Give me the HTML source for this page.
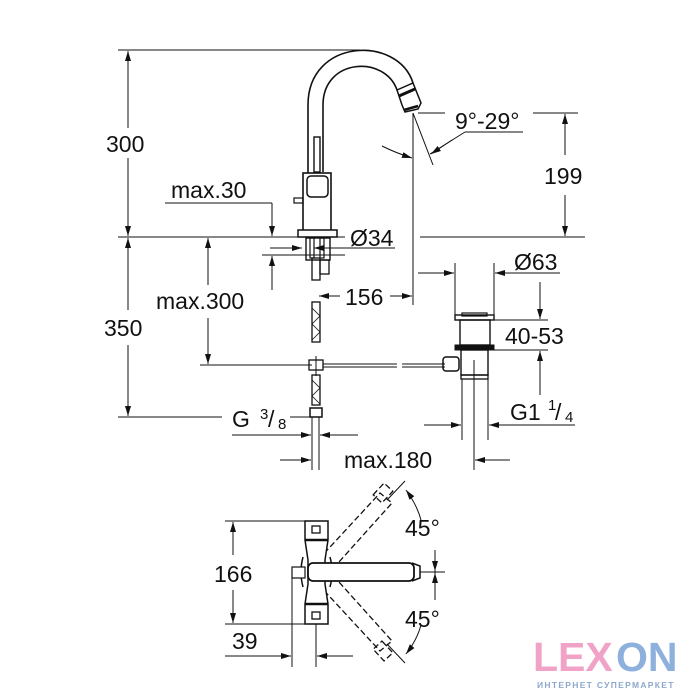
<!DOCTYPE html>
<html><head><meta charset="utf-8"><style>
html,body{margin:0;padding:0;background:#fff}
svg{display:block}
text{font-family:"Liberation Sans",Arial,sans-serif;fill:#111}
</style></head><body>
<svg width="700" height="700" viewBox="0 0 700 700" xmlns="http://www.w3.org/2000/svg">
<defs>
<marker id="a" viewBox="0 0 10 6" refX="10" refY="3" markerWidth="10" markerHeight="6" orient="auto" markerUnits="userSpaceOnUse"><path d="M0,0L10,3L0,6z" fill="#111"/></marker>
</defs>
<g stroke="#111" stroke-width="1" fill="none">
<line x1="118" y1="50" x2="360" y2="50"/>
<line x1="128" y1="128" x2="128" y2="51" marker-end="url(#a)"/>
<line x1="128" y1="158" x2="128" y2="236" marker-end="url(#a)"/>
<line x1="118" y1="237" x2="345" y2="237"/>
<line x1="420" y1="237" x2="585" y2="237"/>
<line x1="128" y1="310" x2="128" y2="238" marker-end="url(#a)"/>
<line x1="128" y1="345" x2="128" y2="416" marker-end="url(#a)"/>
<line x1="118" y1="417" x2="222" y2="417"/>
<line x1="290" y1="417" x2="318" y2="417"/>
<line x1="208" y1="285" x2="208" y2="238" marker-end="url(#a)"/>
<line x1="208" y1="318" x2="208" y2="364" marker-end="url(#a)"/>
<line x1="200" y1="365" x2="312" y2="365"/>
<line x1="165" y1="203" x2="272" y2="203"/>
<line x1="272" y1="203" x2="272" y2="236" marker-end="url(#a)"/>
<line x1="272" y1="290" x2="272" y2="256" marker-end="url(#a)"/>
<line x1="262" y1="255" x2="345" y2="255"/>
<line x1="270" y1="248" x2="302" y2="248" marker-end="url(#a)"/>
<line x1="346" y1="248" x2="314" y2="248" marker-end="url(#a)"/>
<line x1="346" y1="248" x2="395" y2="248"/>
<path d="M308,232 L308,105 C308,38 398,35 413,83" stroke-width="1.6"/>
<path d="M323,172 L323,105 C323,58 385,55 397,90" stroke-width="1.6"/>
<path d="M397,90 L413,83 L421,103 L418,109 L405,112 L402,105 Z" stroke-width="1.5" fill="#fff"/>
<line x1="399" y1="96" x2="415" y2="89" stroke-width="3"/>
<line x1="404" y1="110" x2="418" y2="106" stroke-width="2.5"/>
<rect x="314" y="137" width="6" height="35" stroke-width="1.4"/>
<rect x="303" y="173" width="28" height="59" fill="#fff" stroke-width="1.6"/>
<rect x="307" y="176" width="21" height="21" rx="4" stroke-width="1.5"/>
<rect x="294" y="198" width="9" height="5" stroke-width="1.2"/>
<rect x="298" y="230" width="39" height="7" fill="#fff" stroke-width="1.5"/>
<rect x="306" y="238" width="24" height="22" stroke-width="1.4"/>
<rect x="310" y="238" width="4" height="20" stroke-width="1.2"/>
<rect x="320" y="238" width="4" height="20" stroke-width="1.2"/>
<rect x="320" y="260" width="9" height="14" stroke-width="1.3"/>
<rect x="312" y="258" width="8" height="22" stroke-width="1.3"/>
<rect x="312" y="302" width="8" height="40" stroke-width="1.3"/>
<path d="M312,308 L320,316 L312,324 L320,332 L312,340" stroke-width="0.8"/>
<line x1="316" y1="356" x2="316" y2="376"/>
<rect x="309" y="360" width="14" height="10" stroke-width="1.3"/>
<rect x="312" y="375" width="8" height="30" stroke-width="1.3"/>
<path d="M312,380 L320,388 L312,396 L320,404" stroke-width="0.8"/>
<rect x="310" y="408" width="12" height="9" stroke-width="1.5"/>
<line x1="312" y1="417" x2="312" y2="470"/>
<line x1="319" y1="417" x2="319" y2="470"/>
<line x1="323" y1="364" x2="397" y2="364"/>
<line x1="323" y1="367" x2="397" y2="367"/>
<line x1="402" y1="364" x2="445" y2="364"/>
<line x1="402" y1="367" x2="445" y2="367"/>
<line x1="413" y1="113" x2="413" y2="305"/>
<line x1="340" y1="296" x2="319" y2="296" marker-end="url(#a)"/>
<line x1="390" y1="296" x2="412" y2="296" marker-end="url(#a)"/>
<line x1="413" y1="113" x2="433" y2="165"/>
<line x1="418" y1="113" x2="445" y2="113"/>
<path d="M382,146 Q396,153 412,158" marker-end="url(#a)"/>
<path d="M465,132 L523,132 M465,132 L430,154"/>
<line x1="452" y1="140" x2="431" y2="154" marker-end="url(#a)"/>
<line x1="533" y1="113" x2="578" y2="113"/>
<line x1="565" y1="155" x2="565" y2="114" marker-end="url(#a)"/>
<line x1="565" y1="195" x2="565" y2="236" marker-end="url(#a)"/>
<line x1="455" y1="263" x2="455" y2="316"/>
<line x1="494" y1="263" x2="494" y2="316"/>
<line x1="418" y1="273" x2="454" y2="273" marker-end="url(#a)"/>
<line x1="560" y1="273" x2="495" y2="273" marker-end="url(#a)"/>
<rect x="455" y="315" width="39" height="5" stroke-width="1.4" fill="#fff"/>
<rect x="462" y="313" width="25" height="3" stroke-width="1.2"/>
<rect x="460" y="320" width="30" height="25" stroke-width="1.4"/>
<rect x="455" y="345" width="39" height="5" fill="#111" stroke-width="1"/>
<rect x="461" y="350" width="27" height="25" stroke-width="1.4"/>
<rect x="461" y="375" width="27" height="4" stroke-width="1.3"/>
<rect x="443" y="357" width="16" height="14" rx="3" stroke-width="1.5"/>
<line x1="462" y1="379" x2="462" y2="440"/>
<line x1="488" y1="379" x2="488" y2="440"/>
<line x1="474" y1="360" x2="474" y2="470"/>
<line x1="494" y1="320" x2="548" y2="320"/>
<line x1="494" y1="350" x2="548" y2="350"/>
<line x1="540" y1="282" x2="540" y2="319" marker-end="url(#a)"/>
<line x1="540" y1="395" x2="540" y2="351" marker-end="url(#a)"/>
<line x1="424" y1="425" x2="461" y2="425" marker-end="url(#a)"/>
<line x1="575" y1="425" x2="489" y2="425" marker-end="url(#a)"/>
<line x1="232" y1="435" x2="311" y2="435" marker-end="url(#a)"/>
<line x1="358" y1="435" x2="320" y2="435" marker-end="url(#a)"/>
<line x1="280" y1="460" x2="311" y2="460" marker-end="url(#a)"/>
<line x1="510" y1="460" x2="475" y2="460" marker-end="url(#a)"/>

<line x1="225" y1="521" x2="310" y2="521"/>
<line x1="225" y1="624" x2="310" y2="624"/>
<line x1="233" y1="555" x2="233" y2="522" marker-end="url(#a)"/>
<line x1="233" y1="590" x2="233" y2="623" marker-end="url(#a)"/>
<g stroke-dasharray="6,3" stroke-width="1.3">
<path d="M318,560 L380,493 L392,503 L330,572"/>
<path d="M318,584 L380,651 L392,641 L330,572"/>
<rect x="375" y="487" width="16" height="12" transform="rotate(-47 383 493)"/>
<rect x="375" y="645" width="16" height="12" transform="rotate(47 383 651)"/>
</g>
<path d="M305,521 L328,521 L328,540 L325,560 L325,584 L328,604 L328,624 L305,624 L305,604 L308,584 L308,560 L305,540 Z" fill="#fff" stroke-width="1.5"/>
<rect x="312" y="526" width="8" height="7" stroke-width="1.3"/>
<rect x="312" y="612" width="8" height="7" stroke-width="1.3"/>
<line x1="305" y1="540" x2="328" y2="540" stroke-width="2.5"/>
<line x1="305" y1="604" x2="328" y2="604" stroke-width="2.5"/>
<path d="M303,557 Q299,572 303,587" stroke-width="1.5"/>
<path d="M330,557 Q334,572 330,587" stroke-width="1.5"/>
<rect x="292" y="567" width="13" height="11" stroke-width="1.2" fill="#fff"/>
<rect x="308" y="563" width="106" height="18" rx="5" fill="#fff" stroke-width="1.8"/>
<path d="M412,563 L420,566 L420,578 L412,581" stroke-width="1.5"/>
<line x1="420" y1="572" x2="445" y2="572"/>
<line x1="435" y1="553" x2="435" y2="600"/>
<line x1="435" y1="550" x2="435" y2="571" marker-end="url(#a)"/>
<line x1="435" y1="595" x2="435" y2="573" marker-end="url(#a)"/>
<line x1="405" y1="481" x2="387" y2="500"/>
<line x1="405" y1="663" x2="387" y2="644"/>
<path d="M421,520 Q417,505 406,490" marker-end="url(#a)"/>
<path d="M421,625 Q417,640 406,654" marker-end="url(#a)"/>
<line x1="292" y1="578" x2="292" y2="667"/>
<line x1="316" y1="624" x2="316" y2="667"/>
<line x1="225" y1="656" x2="291" y2="656" marker-end="url(#a)"/>
<line x1="353" y1="656" x2="317" y2="656" marker-end="url(#a)"/>
</g>
<g font-size="23">
<text x="106" y="152">300</text>
<text x="104" y="336">350</text>
<text x="171" y="198">max.30</text>
<text x="156" y="309">max.300</text>
<text x="350" y="246">Ø34</text>
<text x="345" y="305">156</text>
<text x="455" y="129">9°-29°</text>
<text x="544" y="184">199</text>
<text x="514" y="270">Ø63</text>
<text x="505" y="344">40-53</text>
<text x="510" y="420">G1</text>
<text x="548" y="410" font-size="15">1</text>
<text x="555" y="420">/</text>
<text x="565" y="422" font-size="15">4</text>
<text x="232" y="427">G</text>
<text x="260" y="419" font-size="15">3</text>
<text x="268" y="427">/</text>
<text x="278" y="429" font-size="15">8</text>
<text x="344" y="468">max.180</text>
<text x="214" y="582">166</text>
<text x="232" y="649">39</text>
<text x="405" y="536">45°</text>
<text x="405" y="627">45°</text>
</g>
<g font-weight="bold" font-size="41">
<text x="533" y="671" style="fill:#f0a3c6">LEX</text>
<text x="616" y="671" style="fill:#8eb0dc">ON</text>
</g>
<text x="537" y="688" font-size="8.5" font-weight="bold" style="fill:#8ea8cc;letter-spacing:1.3px">ИНТЕРНЕТ СУПЕРМАРКЕТ</text>
</svg>
</body></html>
